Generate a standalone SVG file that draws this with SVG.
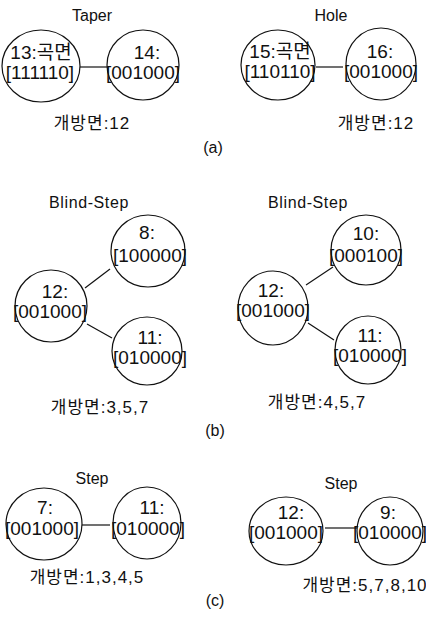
<svg xmlns="http://www.w3.org/2000/svg" width="426" height="620" viewBox="0 0 426 620">
<style>
.bg{fill:#fff}
ellipse{fill:none;stroke:#111;stroke-width:1.2}
.edge line{stroke:#111;stroke-width:1.2}
text{font-family:"Liberation Sans","Noto Sans CJK KR",sans-serif;fill:#111;text-anchor:middle;dominant-baseline:central}
.n{font-size:19px}
.lbl{font-size:16px}
.open{font-size:17px;letter-spacing:1px}
.cap{font-size:16px}
</style>
<rect class="bg" x="0" y="0" width="426" height="620"/>
<g id="connectors" class="edge">
<line x1="80" y1="67" x2="108" y2="67"/>
<line x1="316" y1="67" x2="343" y2="67"/>
<line x1="85" y1="288" x2="110" y2="269"/>
<line x1="87" y1="324" x2="112" y2="338"/>
<line x1="306" y1="285" x2="333" y2="267"/>
<line x1="308" y1="323" x2="334" y2="340"/>
<line x1="82" y1="525" x2="110" y2="525"/>
<line x1="325" y1="528" x2="357" y2="528"/>
</g>
<g id="labels">
<text class="lbl" x="92" y="15">Taper</text>
<text class="lbl" x="331" y="15">Hole</text>
<text class="open" x="92" y="123">개방면:12</text>
<text class="open" x="376" y="123">개방면:12</text>
<text class="cap" x="213" y="147">(a)</text>
<text class="lbl" x="89" y="202" letter-spacing="0.6">Blind-Step</text>
<text class="lbl" x="308" y="202" letter-spacing="0.6">Blind-Step</text>
<text class="open" x="100" y="407">개방면:3,5,7</text>
<text class="open" x="317" y="402">개방면:4,5,7</text>
<text class="cap" x="215" y="430">(b)</text>
<text class="lbl" x="92" y="478">Step</text>
<text class="lbl" x="341" y="483">Step</text>
<text class="open" x="87" y="577">개방면:1,3,4,5</text>
<text class="open" x="365" y="585">개방면:5,7,8,10</text>
<text class="cap" x="215" y="600">(c)</text>
</g>
<g id="node-a13"><ellipse cx="41" cy="66" rx="39" ry="36"/><text class="n" x="41" y="52">13:곡면</text><text class="n" x="40" y="72">[111110]</text></g>
<g id="node-a14"><ellipse cx="143" cy="65" rx="36" ry="35"/><text class="n" x="147" y="52">14:</text><text class="n" x="143" y="72">[001000]</text></g>
<g id="node-a15"><ellipse cx="278" cy="65" rx="37" ry="35"/><text class="n" x="280" y="51">15:곡면</text><text class="n" x="280" y="71">[110110]</text></g>
<g id="node-a16"><ellipse cx="381" cy="64" rx="35" ry="36"/><text class="n" x="380" y="51">16:</text><text class="n" x="381" y="71">[001000]</text></g>
<g id="node-b8"><ellipse cx="148" cy="251" rx="37" ry="36"/><text class="n" x="147" y="232">8:</text><text class="n" x="150" y="255">[100000]</text></g>
<g id="node-b12"><ellipse cx="51" cy="306" rx="36" ry="36"/><text class="n" x="55" y="291">12:</text><text class="n" x="50" y="311">[001000]</text></g>
<g id="node-b11"><ellipse cx="147" cy="351" rx="35" ry="34"/><text class="n" x="150" y="337">11:</text><text class="n" x="150" y="357">[010000]</text></g>
<g id="node-b10r"><ellipse cx="366" cy="250" rx="35" ry="35"/><text class="n" x="366" y="233">10:</text><text class="n" x="366" y="255">[000100]</text></g>
<g id="node-b12r"><ellipse cx="273" cy="308" rx="35" ry="37"/><text class="n" x="271" y="290">12:</text><text class="n" x="273" y="310">[001000]</text></g>
<g id="node-b11r"><ellipse cx="368" cy="350" rx="33" ry="34"/><text class="n" x="370" y="335">11:</text><text class="n" x="370" y="355">[010000]</text></g>
<g id="node-c7"><ellipse cx="44" cy="524" rx="38" ry="36"/><text class="n" x="45" y="507">7:</text><text class="n" x="42" y="528">[001000]</text></g>
<g id="node-c11"><ellipse cx="147" cy="523" rx="34" ry="36"/><text class="n" x="152" y="507">11:</text><text class="n" x="148" y="528">[010000]</text></g>
<g id="node-c12r"><ellipse cx="286" cy="531" rx="37" ry="34"/><text class="n" x="291" y="512">12:</text><text class="n" x="286" y="532">[001000]</text></g>
<g id="node-c9r"><ellipse cx="390" cy="531" rx="33" ry="34"/><text class="n" x="388" y="512">9:</text><text class="n" x="390" y="532">[010000]</text></g>
</svg>
